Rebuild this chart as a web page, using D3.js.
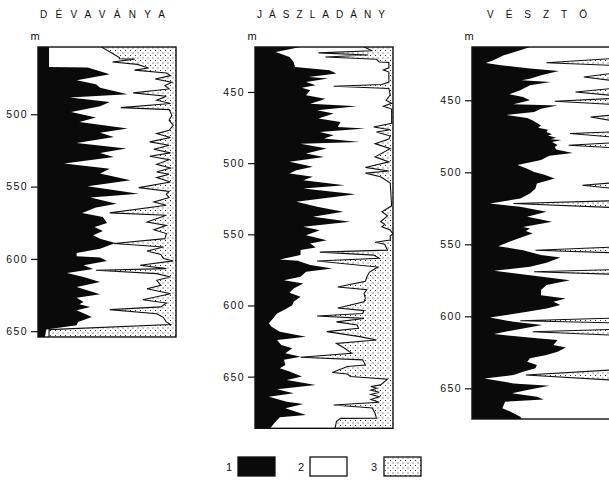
<!DOCTYPE html>
<html><head><meta charset="utf-8">
<script src="https://cdn.jsdelivr.net/npm/d3@7"></script>
<style>
html,body{margin:0;padding:0;background:#fff;}
svg{display:block;}
text{font-family:"Liberation Sans",Arial,sans-serif;fill:#111;}
</style></head><body>
<svg id="chart" width="609" height="480"></svg>
<script>
// Borehole lithology columns: depth (m) vs. cumulative share (%)
// clay = 1 (black), clay+silt = left edge of sand = 3 (dotted)
const wellNames = ["DÉVAVÁNYA", "JÁSZLADÁNY", "VÉSZTÖ"];
const legendLabels = ["1", "2", "3"];

const devRange = [453.5, 654];
const jaszRange = [418.4, 686.3];
const veszRange = [413, 671.3];

const devTicks = [500, 550, 600, 650];
const jaszTicks = [450, 500, 550, 600, 650];
const veszTicks = [450, 500, 550, 600, 650];

const devClay = [[453.5,8],[467.3,8],[467.7,36],[472.3,52],[476.5,28],[479.3,42],[481.6,45],[486.2,65],[488.5,23],[491.5,52],[494.5,45],[498.4,24],[502.3,42],[505.3,30],[509.9,65],[512.7,45],[515.7,55],[519.8,28],[523.7,64],[526.7,45],[529.5,55],[534.1,19],[537.6,52],[541,45],[545.6,67],[549.8,36],[554.9,73],[557.6,38],[561.8,57],[564.5,42],[568.2,32],[571,47],[575.1,50],[577.9,41],[580.7,47],[583.7,40],[586,45],[589,56],[592.9,45],[595.9,28],[598.2,28],[599.1,45],[601.4,50],[604.4,33],[607,40],[609.7,21],[612.5,33],[616,45],[619.4,28],[624.5,45],[626.8,28],[629.8,33],[631.4,30],[633.2,38],[635.5,28],[640.2,39],[643.6,29],[645.9,28],[648.9,6],[654,5]];

const devSand = [[453.5,46],[460.8,59],[461.6,59],[461.9,70],[463.9,54],[465.5,72],[468,80],[469.5,70],[471.5,93],[473.3,96],[475.6,85],[477.9,97],[480.2,92],[482.5,95],[485.2,69],[487.6,93],[490.3,86],[492.6,96],[495.4,60],[496.8,95],[500.7,97],[504.1,95],[507.6,98],[511.1,95],[513.4,86],[516.1,96],[519.1,81],[521.4,95],[524.2,84],[526.7,96],[529,81],[531.4,95],[534.6,86],[537.1,96],[539.9,86],[541.5,95],[543.8,86],[546.8,96],[550.7,73],[553.3,95],[555.3,93],[557.6,95],[560.6,84],[562.9,93],[568.2,52],[569.8,93],[574.5,79],[576.8,93],[579.8,84],[582.5,93],[586,92],[589.4,55],[591.8,91],[594.6,79],[596.9,89],[599.8,91],[601.4,98],[604.4,74],[606.7,93],[607.8,42],[610.2,86],[612.5,96],[614.8,86],[618.3,89],[620.6,79],[624.1,96],[628.2,76],[630.5,93],[633.2,89],[635.1,52],[637.9,86],[640.6,91],[643.6,93],[645.4,96],[648.9,8],[654,8]];

const jaszClay = [[418.4,33],[421.9,15],[425.4,25],[428.9,28],[432.5,29],[434.8,54],[437.1,59],[439.5,39],[440.6,53],[443,37],[445.3,44],[447,34],[448.8,40],[452.3,37],[454.7,51],[455.8,48],[458.2,40],[460.1,74],[462.9,45],[465.2,57],[468.7,46],[471.1,62],[474.6,60],[475.7,80],[478.1,47],[480.4,57],[482.7,50],[485.1,76],[486.3,33],[489.8,52],[493.3,37],[495.6,50],[499.1,25],[502.6,42],[505,30],[507.3,25],[509.6,42],[512,35],[515.5,65],[517.8,35],[521.8,73],[527.2,30],[530.7,45],[534.2,64],[537.7,42],[541.2,69],[544.7,35],[547.1,47],[550.6,37],[554.1,52],[556.4,40],[559.2,44],[561.1,33],[564.6,33],[567.7,18],[568.6,31],[571.6,40],[574,56],[576.3,37],[579.9,33],[582.2,21],[584.5,35],[588,28],[591.1,25],[593.9,33],[597.4,28],[599.8,27],[603.2,21],[605.6,16],[609.1,13],[612.6,10],[614.9,12],[618.4,18],[621.9,37],[624.3,16],[627.8,19],[630.1,27],[633.6,22],[636,33],[638.2,21],[641.8,22],[644.1,18],[646.4,25],[649.9,34],[652.3,23],[655.8,44],[658.9,16],[661.7,28],[664.1,10],[667.6,23],[669.2,35],[672.2,22],[676.9,37],[678.6,18],[681.6,15],[686.3,11]];

const jaszSand = [[418.4,79],[421,85],[422.5,46],[424,82],[425.4,51],[427,88],[428.9,90],[429.2,97],[433,97],[434.5,93],[436,97],[443,97],[444.7,92],[446,57],[447.5,97],[452,98],[455.8,95],[458,99],[460,93],[462,99],[472,99],[474.6,86],[476.5,98],[478.1,88],[481,98],[483,97],[486.3,87],[489.8,98],[495.6,87],[499.1,97],[503,80],[505.5,97],[507,80],[509.6,91],[514,98],[530,99],[534.2,92],[537,96],[541.2,91],[543,94],[544.7,92],[547,98],[549.8,100],[551,98],[554,98],[555.6,87],[557,94],[561.1,96],[562.5,47],[564.6,86],[566.8,90],[568.8,45],[573,89],[576.5,83],[580,81],[583,80],[587,60],[589,81],[591.5,79],[595,80],[597.4,79],[601.8,60],[603.6,79],[605.6,78],[607.4,45],[609.1,79],[611.5,59],[613.7,74],[616,75],[618.4,52],[621.9,76],[624.3,88],[626.6,59],[630.1,65],[633.6,70],[636.4,33],[638.2,78],[641.8,80],[642.9,67],[647.1,56],[648.1,67],[649.9,69],[651.8,96],[655.8,91],[657,84],[658.2,88],[659.5,84],[661,90],[662.5,84],[664.1,90],[666,84],[668,90],[669.9,57],[672,85],[675.7,87],[679.2,88],[679.3,62],[681.6,59],[686.3,58]];

const veszClay = [[413,42],[415.3,35],[418.8,23],[422.3,15],[424.1,10],[425.7,21],[428,42],[429.7,63],[432.7,50],[435,42],[436.1,36],[437.3,57],[439.6,42],[443.1,35],[445.8,27],[447.7,37],[450,42],[452.8,30],[453.6,62],[455.8,50],[458.1,45],[460.2,25],[462.3,40],[464,44],[465.8,47],[467.5,50],[469,48],[470.5,55],[472,54],[473.5,58],[474.5,55],[476,61],[477,57],[477.6,65],[479,58],[481,62],[482.4,60],[484.2,61],[486.6,73],[488.5,56],[491.5,50],[494.9,33],[497.5,40],[499.8,45],[501.5,52],[504.3,60],[507.8,47],[511.3,46],[514.7,42],[518.2,35],[521.7,13],[524,35],[527.4,54],[530.9,40],[534.4,58],[537.9,37],[539.1,42],[540.7,39],[542.5,44],[544.8,37],[547.1,30],[551.3,19],[554.1,37],[557.5,50],[559.1,64],[562.8,54],[565.6,42],[568.4,16],[571.4,42],[574.9,71],[578.3,54],[581.8,50],[585.3,50],[587.6,68],[589.9,59],[592.2,64],[594.5,54],[596.8,40],[599.1,25],[600.8,13],[603.8,30],[606.1,51],[609.6,30],[612.3,16],[615.3,47],[616.5,62],[619.9,59],[621.6,68],[624.6,62],[626.9,54],[629.2,42],[631.5,40],[633.8,47],[636.1,46],[638.5,37],[640.8,30],[643.1,9],[646.6,30],[648.2,56],[651.2,40],[653.5,29],[655.8,47],[657.7,52],[659.3,24],[663.9,22],[666.2,28],[669.7,35],[671.3,36]];

const veszSand = [[413,100],[421.1,100],[423.9,54],[425.7,100],[431.5,100],[433.8,81],[436.1,100],[441.9,100],[444.2,75],[446.5,100],[448.8,100],[450.7,60],[452.8,100],[460.4,100],[461.6,86],[463.9,100],[472,100],[473.1,71],[475.4,100],[479.6,100],[481.2,70],[482.8,100],[507.5,100],[509,80],[511,100],[519.8,100],[521.7,30],[524.4,100],[552,100],[554.1,46],[555.8,100],[567.6,100],[569.1,45],[570.7,100],[601.3,100],[603.1,35],[604.5,100],[609.1,100],[610.7,44],[613,100],[637.3,100],[640.8,39],[644.2,100],[671.3,100]];

const svg = d3.select("#chart");
const defs = svg.append("defs");

// stipple for the sand fill
const pat = defs.append("pattern").attr("id", "sand")
  .attr("patternUnits", "userSpaceOnUse").attr("width", 5).attr("height", 5);
pat.append("rect").attr("width", 5).attr("height", 5).attr("fill", "#fff");
pat.append("rect").attr("x", 0).attr("y", 0).attr("width", 1).attr("height", 1).attr("fill", "#333");
pat.append("rect").attr("x", 2.5).attr("y", 2.5).attr("width", 1).attr("height", 1).attr("fill", "#333");

const colWidth = 138, colTop = 47;
const panels = [
  { name: wellNames[0], clay: devClay,  sand: devSand,  range: devRange,  ticks: devTicks,  left: 38,  bottom: 337,   title: [40, 125] },
  { name: wellNames[1], clay: jaszClay, sand: jaszSand, range: jaszRange, ticks: jaszTicks, left: 255, bottom: 428.3, title: [257, 128] },
  { name: wellNames[2], clay: veszClay, sand: veszSand, range: veszRange, ticks: veszTicks, left: 472, bottom: 419,   title: [487, 100] }
];

panels.forEach((p, i) => {
  const x = d3.scaleLinear().domain([0, 100]).range([p.left, p.left + colWidth]);
  const y = d3.scaleLinear().domain(p.range).range([colTop, p.bottom]);
  const g = svg.append("g");

  defs.append("clipPath").attr("id", "clip" + i)
    .append("rect").attr("x", p.left).attr("y", colTop)
    .attr("width", colWidth).attr("height", p.bottom - colTop);
  const inner = g.append("g").attr("clip-path", `url(#clip${i})`);

  inner.append("path").datum(p.sand)
    .attr("d", d3.area().y(d => y(d[0])).x0(d => x(d[1])).x1(x(100)))
    .attr("fill", "url(#sand)");
  inner.append("path").datum(p.sand)
    .attr("d", d3.line().x(d => x(d[1])).y(d => y(d[0])))
    .attr("fill", "none").attr("stroke", "#111").attr("stroke-width", 1.1)
    .attr("stroke-linejoin", "miter");
  inner.append("path").datum(p.clay)
    .attr("d", d3.area().y(d => y(d[0])).x0(x(0)).x1(d => x(d[1])))
    .attr("fill", "#0a0a0a");

  g.append("rect").attr("x", p.left).attr("y", colTop)
    .attr("width", colWidth).attr("height", p.bottom - colTop)
    .attr("fill", "none").attr("stroke", "#111").attr("stroke-width", 1.4);

  const axis = g.append("g").attr("transform", `translate(${p.left},0)`)
    .call(d3.axisLeft(y).tickValues(p.ticks).tickSize(7).tickPadding(3).tickFormat(d3.format("d")));
  axis.select(".domain").remove();
  axis.selectAll("line").attr("stroke", "#111").attr("stroke-width", 1.2);
  axis.selectAll("text").attr("font-family", '"Liberation Sans",Arial,sans-serif')
    .attr("font-size", 10.5).attr("fill", "#111").attr("letter-spacing", 1.4);

  g.append("text").attr("x", p.left - 3).attr("y", 40)
    .attr("text-anchor", "middle").attr("font-size", 11).text("m");

  g.append("text").attr("x", p.title[0]).attr("y", 18)
    .attr("font-size", 10).attr("fill", "#222")
    .attr("textLength", p.title[1]).attr("lengthAdjust", "spacing")
    .text(p.name);
});

// legend
const legend = svg.append("g");
const fills = ["#0a0a0a", "#fff", "url(#sand)"];
const keyX = [238, 310, 384];
const numX = [229, 301, 374];
legendLabels.forEach((lab, i) => {
  legend.append("rect").attr("x", keyX[i]).attr("y", 457).attr("width", 37).attr("height", 19)
    .attr("fill", fills[i]).attr("stroke", "#111").attr("stroke-width", 1.3);
  legend.append("text").attr("x", numX[i]).attr("y", 471).attr("text-anchor", "middle")
    .attr("font-size", 11).text(lab);
});
</script>
</body></html>
